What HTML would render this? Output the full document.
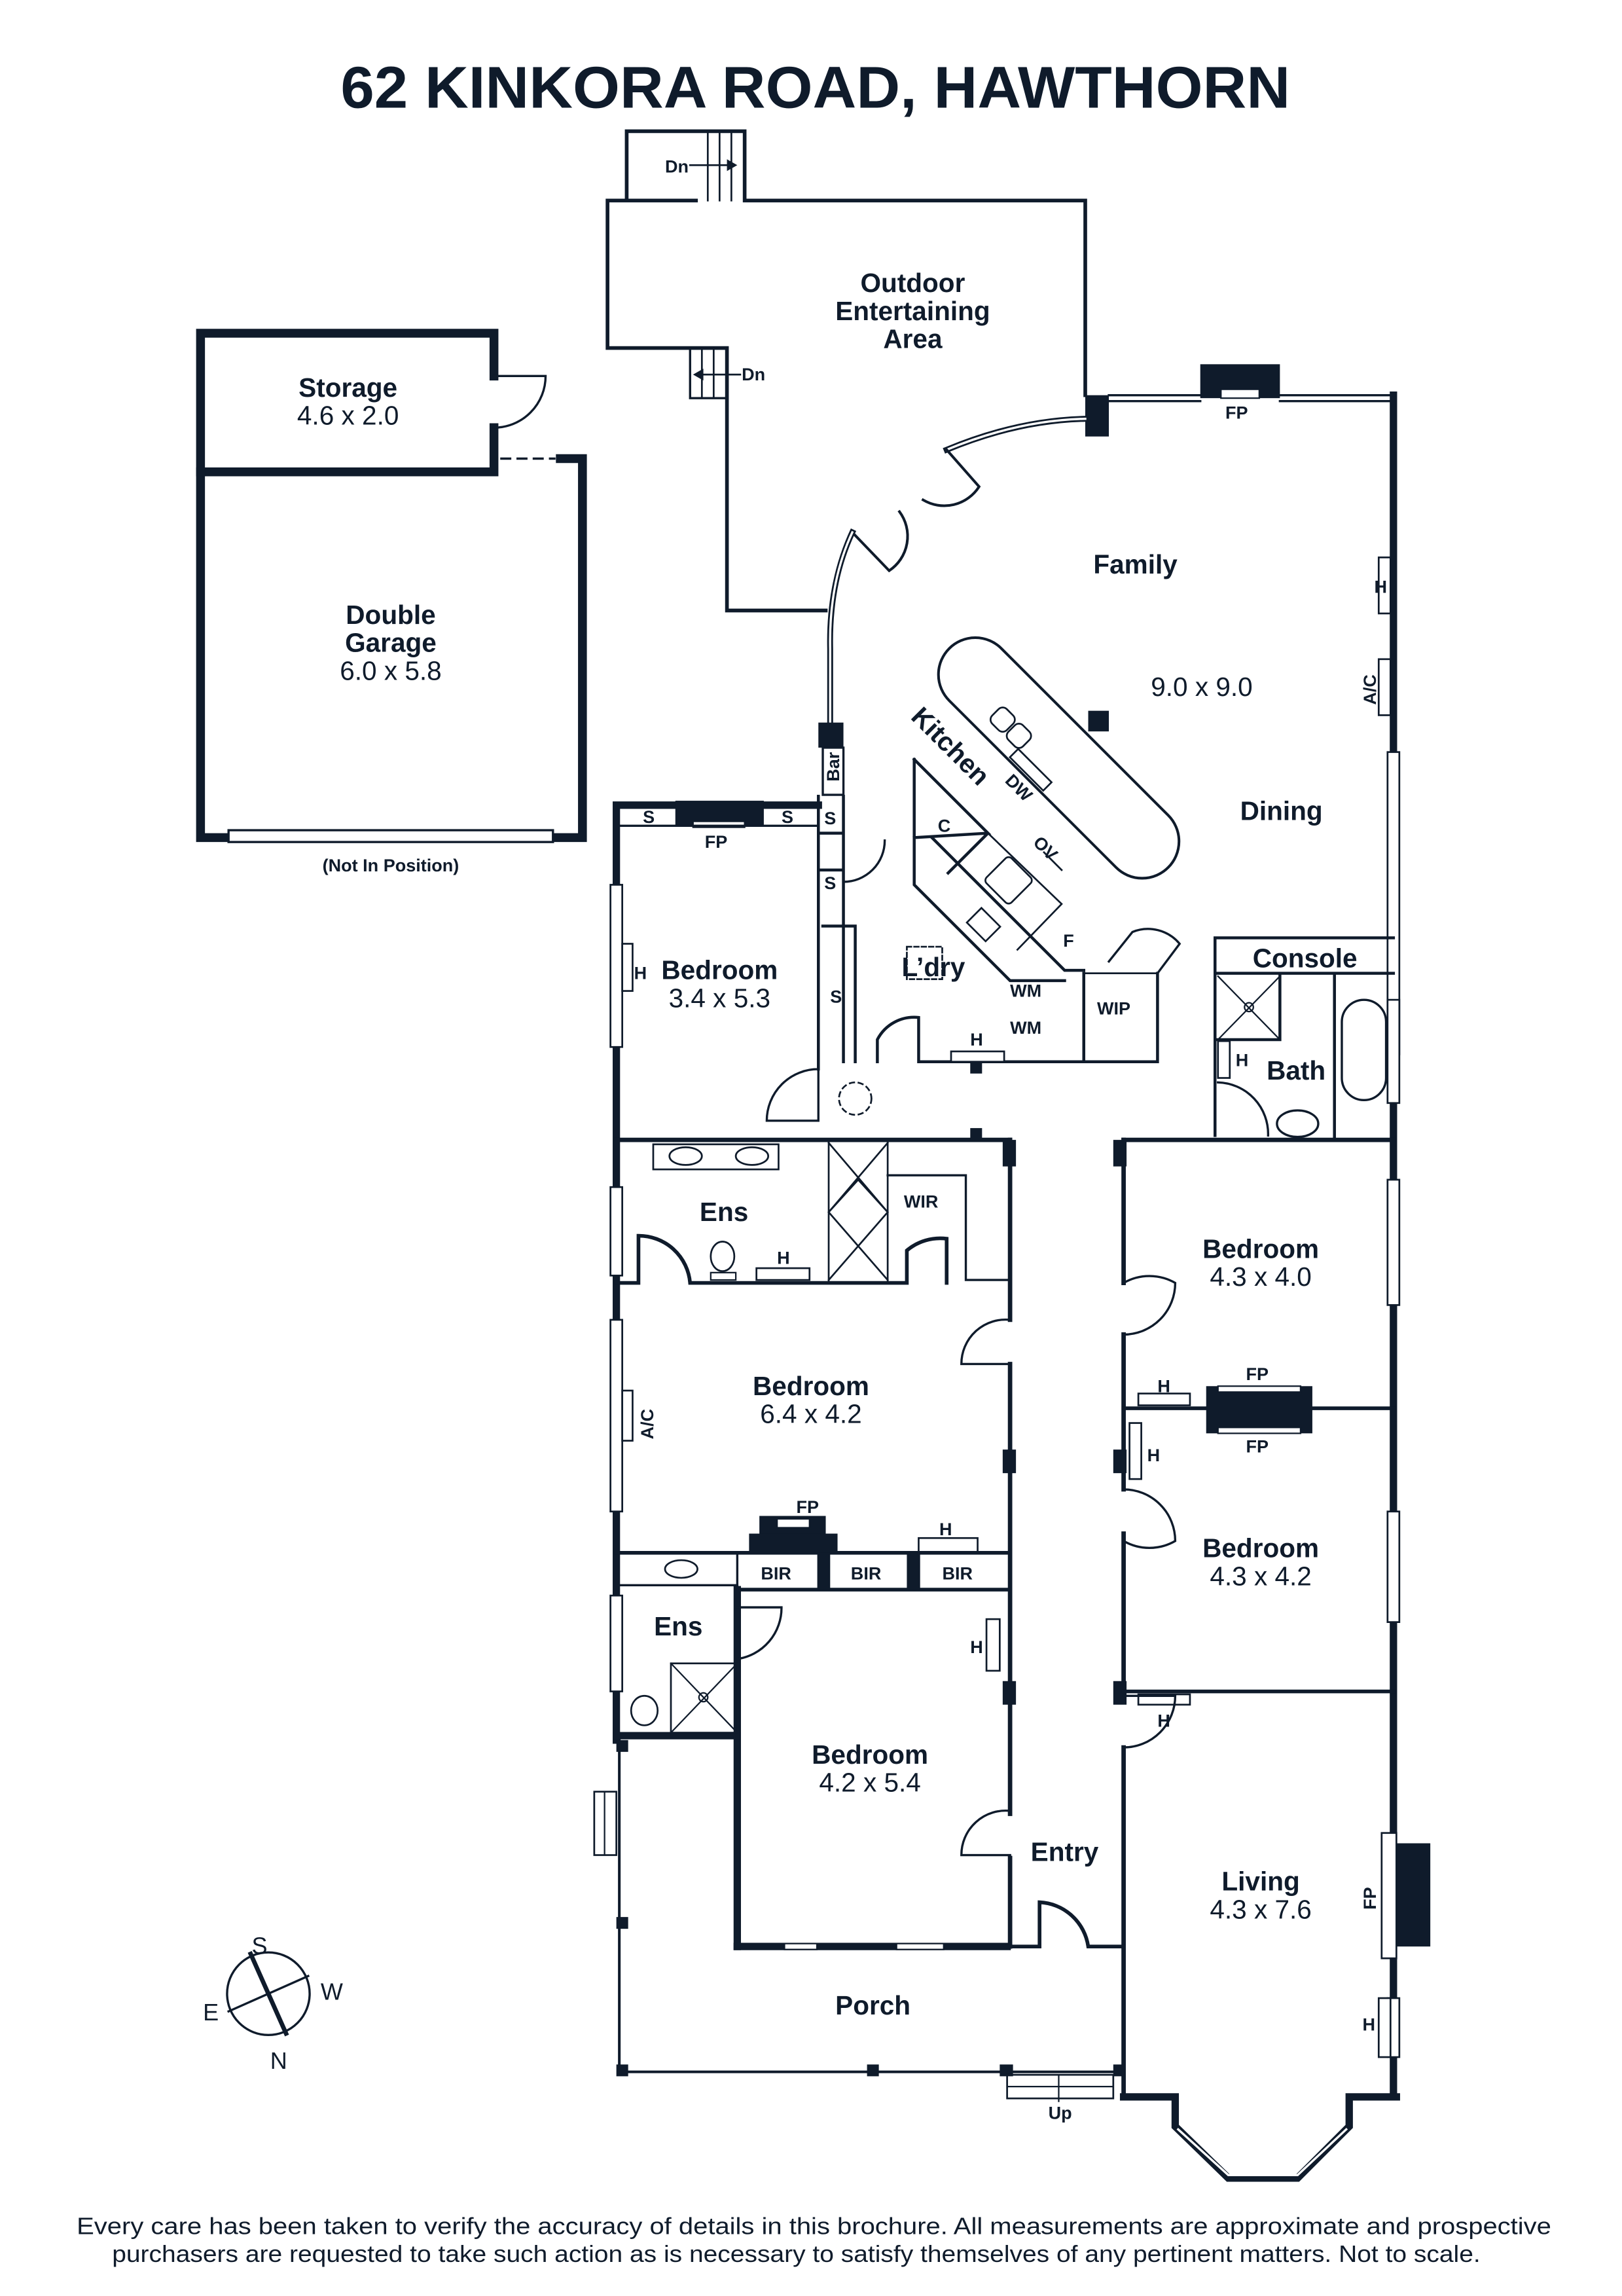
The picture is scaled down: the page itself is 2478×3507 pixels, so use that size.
<!DOCTYPE html>
<html><head><meta charset="utf-8"><style>
html,body{margin:0;padding:0;background:#fff}
svg{display:block}
text{font-family:"Liberation Sans",sans-serif;fill:#0f1b2b}
.b{font-weight:bold;font-size:18px}
.r{font-size:18px}
.s{font-weight:bold;font-size:12px}
</style></head><body>
<svg width="2478" height="3507" viewBox="0 0 1100 1557" preserveAspectRatio="none" xmlns="http://www.w3.org/2000/svg">
<g stroke="#0f1b2b" fill="none" stroke-linecap="square">
<path d="M335,290 V320 H136 V226 H335 V255" stroke-width="6"/>
<path d="M335,255 H370 A35,35 0 0 1 335,290" stroke-width="1.5"/>
<path d="M136,320 V568 H395 V311 H380" stroke-width="6"/>
<line x1="340" y1="311" x2="376" y2="311" stroke-width="1.5" stroke-dasharray="6,5"/>
<rect x="155" y="563" width="220" height="8" fill="#fff" stroke-width="1.5"/>
<path d="M505,136 H736 V268 M472,136 H412 V236 H493 V414 H560 M425,136 V89 H505 V136" stroke-width="2.5"/>
<path d="M480,89 V136 M488,89 V136 M496,89 V136" stroke-width="1.2"/>
<line x1="468" y1="112" x2="498" y2="112" stroke-width="1.2"/>
<path d="M500,112 l-7,-4 v8z" fill="#0f1b2b" stroke="none"/>
<rect x="468" y="236" width="25" height="34" stroke-width="1.5"/>
<path d="M476,236 V270 M484,236 V270" stroke-width="1.2"/>
<line x1="472" y1="254" x2="502" y2="254" stroke-width="1.2"/>
<path d="M470,254 l7,-4 v8z" fill="#0f1b2b" stroke="none"/>
<rect x="814" y="247" width="54" height="23" fill="#0f1b2b" stroke="none"/>
<rect x="828" y="264" width="26" height="6" fill="#fff" stroke-width="1"/>
<path d="M752,268 H814 M752,272 H814 M868,268 H945 M868,272 H945" stroke-width="1.5"/>
<rect x="736" y="268" width="16" height="28" fill="#0f1b2b" stroke="none"/>
<path d="M945,268 V1422" stroke-width="5"/>
<rect x="941" y="510" width="8" height="205" fill="#fff" stroke-width="1.2"/>
<rect x="941" y="678" width="8" height="70" fill="#fff" stroke-width="1.2"/>
<rect x="941" y="800" width="8" height="85" fill="#fff" stroke-width="1.2"/>
<rect x="941" y="1025" width="8" height="75" fill="#fff" stroke-width="1.2"/>
<rect x="941" y="1355" width="8" height="40" fill="#fff" stroke-width="1.2"/>
<rect x="935" y="378" width="8" height="38" fill="#fff" stroke-width="1.2"/>
<rect x="935" y="447" width="8" height="38" fill="#fff" stroke-width="1.2"/>
<path d="M736,284 Q690,285 642,305" stroke-width="4"/>
<path d="M736,284 Q690,285 642,305" stroke="#fff" stroke-width="1.5"/>
<path d="M642,305 L664,330 A28,28 0 0 1 626,339" stroke-width="1.8"/>
<path d="M578,361 L603,387 A28,28 0 0 0 610,347" stroke-width="1.8"/>
<path d="M578,361 Q562,395 563,440 L563,492" stroke-width="4"/>
<path d="M578,361 Q562,395 563,440 L563,492" stroke="#fff" stroke-width="1.5"/>
<rect x="555" y="490" width="17" height="17" fill="#0f1b2b" stroke="none"/>
<rect x="558" y="507" width="14" height="32" stroke-width="1.5"/>
<path d="M555,546 H418 V1180" stroke-width="5"/>
<rect x="458" y="543" width="60" height="17" fill="#0f1b2b" stroke="none"/>
<rect x="470" y="557" width="35" height="4" fill="#fff" stroke-width="1"/>
<path d="M420,560 H555" stroke-width="1.5"/>
<rect x="414" y="600" width="8" height="110" fill="#fff" stroke-width="1.2"/>
<rect x="422" y="640" width="7" height="32" fill="#fff" stroke-width="1.2"/>
<rect x="414" y="805" width="8" height="60" fill="#fff" stroke-width="1.2"/>
<rect x="414" y="895" width="8" height="130" fill="#fff" stroke-width="1.2"/>
<rect x="422" y="943" width="7" height="34" fill="#fff" stroke-width="1.2"/>
<rect x="414" y="1082" width="8" height="65" fill="#fff" stroke-width="1.2"/>
<path d="M555,540 V725 M572,540 V720 M555,565 H572 M555,590 H572" stroke-width="2"/>
<path d="M558,628 H580 V720" stroke-width="2"/>
<path d="M572,570 V598 A28,28 0 0 0 600,570" stroke-width="1.5"/>
<path d="M595,720 V705 A28,28 0 0 1 623,690 V720 H785 V660 M735,720 V660" stroke-width="2"/>
<rect x="645" y="713" width="36" height="7" fill="#fff" stroke-width="1.2"/>
<rect x="658" y="720" width="8" height="8" fill="#0f1b2b" stroke="none"/>
<path d="M735,660 H785" stroke-width="1.2"/>
<path d="M785,660 L800,640 A28,28 0 0 0 768,632 L752,652" stroke-width="1.5"/>
<path d="M620,515 V568 M620,515 L670,565 L620,568 M632,568 L722,658 L735,658 M670,565 L643,592 M620,568 L620,600 L685,665 L722,665" stroke-width="2"/>
<path d="M670,565 L720,613 L690,644 M708,578 L720,590" stroke-width="1.2"/>
<rect x="672" y="585" width="24" height="24" rx="3" transform="rotate(45 684 597)" stroke-width="1.2"/>
<rect x="658" y="620" width="18" height="14" transform="rotate(45 667 627)" stroke-width="1.2"/>
<rect x="615" y="642" width="24" height="22" stroke-width="1.2" stroke-dasharray="3,2"/>
<rect x="613" y="489" width="210" height="50" rx="25" transform="rotate(45 718 514)" stroke-width="1.8"/>
<rect x="673" y="481" width="14" height="14" rx="4" transform="rotate(45 680 488)" stroke-width="1.2"/>
<rect x="684" y="492" width="14" height="14" rx="4" transform="rotate(45 691 499)" stroke-width="1.2"/>
<rect x="683" y="518" width="32" height="8" transform="rotate(45 699 522)" stroke-width="1.2"/>
<rect x="738" y="482" width="14" height="14" fill="#0f1b2b" stroke="none"/>
<path d="M945,636 H824 V770 M824,660 H945 M868,660 V705 M826,705 H868 M905,660 V773" stroke-width="2"/>
<path d="M826,662 L868,705 M868,662 L826,705" stroke-width="1"/>
<circle cx="847" cy="683" r="3" stroke-width="1"/>
<rect x="910" y="678" width="30" height="68" rx="15" stroke-width="1.5"/>
<ellipse cx="880" cy="762" rx="14" ry="9" stroke-width="1.5"/>
<path d="M826,734 A35,35 0 0 1 860,770" stroke-width="1.5"/>
<rect x="826" y="706" width="8" height="25" stroke-width="1.2"/>
<path d="M418,773 H685 M762,773 H945" stroke-width="3"/>
<path d="M685,773 V895 M685,925 V1230 M685,1260 V1320 M762,773 V870 M762,905 V1010 M762,1040 V1150 M762,1185 V1422" stroke-width="3"/>
<rect x="680" y="773" width="9" height="18" fill="#0f1b2b" stroke="none"/>
<rect x="658" y="765" width="8" height="8" fill="#0f1b2b" stroke="none"/>
<rect x="755" y="773" width="9" height="18" fill="#0f1b2b" stroke="none"/>
<rect x="680" y="983" width="9" height="16" fill="#0f1b2b" stroke="none"/>
<rect x="680" y="1140" width="9" height="16" fill="#0f1b2b" stroke="none"/>
<rect x="755" y="983" width="9" height="16" fill="#0f1b2b" stroke="none"/>
<rect x="755" y="1140" width="9" height="16" fill="#0f1b2b" stroke="none"/>
<path d="M685,895 A30,30 0 0 0 652,925 L685,925" stroke-width="1.5"/>
<path d="M685,1228 A30,30 0 0 0 652,1258 L685,1258" stroke-width="1.5"/>
<path d="M762,870 A35,35 0 0 1 797,870 A35,35 0 0 1 762,905" stroke-width="1.5"/>
<path d="M762,1010 A35,35 0 0 1 797,1045 A35,35 0 0 1 762,1045" stroke-width="1.5"/>
<path d="M762,1150 H797 A35,35 0 0 1 762,1185" stroke-width="1.5"/>
<path d="M555,725 V760 H520 A35,35 0 0 1 555,725" stroke-width="1.5"/>
<circle cx="580" cy="745" r="11" stroke-width="1.2" stroke-dasharray="3,3"/>
<rect x="443" y="776" width="85" height="17" stroke-width="1.2"/>
<ellipse cx="465" cy="784" rx="11" ry="6" stroke-width="1.2"/>
<ellipse cx="510" cy="784" rx="11" ry="6" stroke-width="1.2"/>
<path d="M562,775 V870 M602,775 V870 M562,822 L582,800 L602,822 L582,845 Z M562,775 L602,822 M602,775 L562,822 M562,822 L602,868 M602,822 L562,868" stroke-width="1.2"/>
<path d="M602,797 H655 V868 M655,868 H683" stroke-width="1.5"/>
<path d="M418,870 H433 V838 A35,35 0 0 1 468,870 H615 V848 A35,35 0 0 1 642,840 V870" stroke-width="2.5"/>
<ellipse cx="490" cy="852" rx="8" ry="10" stroke-width="1.2"/>
<rect x="482" y="863" width="17" height="5" stroke-width="1"/>
<rect x="513" y="860" width="36" height="8" stroke-width="1.2"/>
<rect x="515" y="1028" width="45" height="25" fill="#0f1b2b" stroke="none"/>
<rect x="508" y="1040" width="60" height="13" fill="#0f1b2b" stroke="none"/>
<rect x="527" y="1030" width="22" height="6" fill="#fff" stroke-width="1"/>
<rect x="623" y="1043" width="40" height="10" stroke-width="1.2"/>
<path d="M418,1053 H683 M500,1078 H683" stroke-width="2.5"/>
<path d="M500,1053 V1078 M555,1053 V1078 M620,1053 V1078" stroke-width="1.5"/>
<rect x="555" y="1053" width="8" height="25" fill="#0f1b2b" stroke="none"/>
<rect x="615" y="1053" width="9" height="25" fill="#0f1b2b" stroke="none"/>
<path d="M500,1078 V1320" stroke-width="5"/>
<path d="M500,1320 H683 M418,1177 H500" stroke-width="5"/>
<rect x="532" y="1318" width="22" height="4" fill="#fff" stroke-width="1"/>
<rect x="608" y="1318" width="32" height="4" fill="#fff" stroke-width="1"/>
<path d="M418,1075 H500 M500,1090 H530 A35,35 0 0 1 500,1125" stroke-width="1.5"/>
<ellipse cx="462" cy="1064" rx="11" ry="6" stroke-width="1.2"/>
<rect x="455" y="1128" width="45" height="47" stroke-width="1.2"/>
<path d="M455,1128 L500,1175 M500,1128 L455,1175" stroke-width="1"/>
<circle cx="477" cy="1151" r="3" stroke-width="1"/>
<ellipse cx="437" cy="1160" rx="9" ry="10" stroke-width="1.2"/>
<rect x="669" y="1098" width="9" height="35" stroke-width="1.2"/>
<path d="M762,955 H945 M762,1147 H945" stroke-width="2.5"/>
<rect x="818" y="940" width="72" height="32" fill="#0f1b2b" stroke="none"/>
<rect x="826" y="940" width="56" height="4" fill="#fff" stroke-width="1"/>
<rect x="826" y="968" width="56" height="4" fill="#fff" stroke-width="1"/>
<rect x="772" y="945" width="35" height="8" stroke-width="1.2"/>
<rect x="766" y="965" width="8" height="38" stroke-width="1.2"/>
<rect x="772" y="1149" width="35" height="7" stroke-width="1.2"/>
<rect x="945" y="1250" width="25" height="70" fill="#0f1b2b" stroke="none"/>
<rect x="937" y="1243" width="10" height="85" fill="#fff" stroke-width="1.2"/>
<rect x="935" y="1355" width="8" height="40" fill="#fff" stroke-width="1.2"/>
<path d="M762,1422 H797 V1442 L833,1477 H880 L915,1442 V1422 H947" stroke-width="5"/>
<path d="M799,1444 L833,1475 H880 L913,1444" stroke="#fff" stroke-width="1.5"/>
<path d="M683,1320 H705 V1290 A35,35 0 0 1 738,1320 H762" stroke-width="2.5"/>
<path d="M420,1180 V1405 H762" stroke-width="1.8"/>
<rect x="418" y="1180" width="8" height="8" fill="#0f1b2b" stroke="none"/>
<rect x="418" y="1300" width="8" height="8" fill="#0f1b2b" stroke="none"/>
<rect x="418" y="1400" width="8" height="8" fill="#0f1b2b" stroke="none"/>
<rect x="588" y="1400" width="8" height="8" fill="#0f1b2b" stroke="none"/>
<rect x="678" y="1400" width="9" height="8" fill="#0f1b2b" stroke="none"/>
<rect x="755" y="1400" width="8" height="8" fill="#0f1b2b" stroke="none"/>
<rect x="403" y="1215" width="15" height="43" stroke-width="1.2"/>
<path d="M410,1215 V1258" stroke-width="1"/>
<rect x="683" y="1407" width="72" height="16" stroke-width="1.2"/>
<path d="M683,1415 H755 M718,1407 V1425" stroke-width="1"/>
<circle cx="182" cy="1352" r="28" stroke-width="1.5"/>
<path d="M170,1325 L194,1379" stroke-width="3"/>
<path d="M155,1364 L209,1340" stroke-width="1.5"/>
</g>
<g fill="#0f1b2b">
<text x="553" y="73" text-anchor="middle" font-size="40" font-weight="bold" textLength="644" lengthAdjust="spacingAndGlyphs">62 KINKORA ROAD, HAWTHORN</text>
<text x="552" y="1515" text-anchor="middle" font-size="16" textLength="1000" lengthAdjust="spacingAndGlyphs">Every care has been taken to verify the accuracy of details in this brochure. All measurements are approximate and prospective</text>
<text x="540" y="1534" text-anchor="middle" font-size="16" textLength="928" lengthAdjust="spacingAndGlyphs">purchasers are requested to take such action as is necessary to satisfy themselves of any pertinent matters. Not to scale.</text>
<text class="b" x="236" y="269" text-anchor="middle">Storage</text>
<text class="r" x="236" y="288" text-anchor="middle">4.6 x 2.0</text>
<text class="b" x="265" y="423" text-anchor="middle">Double</text>
<text class="b" x="265" y="442" text-anchor="middle">Garage</text>
<text class="r" x="265" y="461" text-anchor="middle">6.0 x 5.8</text>
<text class="s" x="265" y="591" text-anchor="middle" font-size="14">(Not In Position)</text>
<text class="b" x="619" y="198" text-anchor="middle">Outdoor</text>
<text class="b" x="619" y="217" text-anchor="middle">Entertaining</text>
<text class="b" x="619" y="236" text-anchor="middle">Area</text>
<text class="s" x="451" y="117">Dn</text>
<text class="s" x="503" y="258">Dn</text>
<text class="s" x="831" y="284">FP</text>
<text class="b" x="770" y="389" text-anchor="middle">Family</text>
<text class="r" x="815" y="472" text-anchor="middle">9.0 x 9.0</text>
<text class="b" x="869" y="556" text-anchor="middle">Dining</text>
<text class="s" x="932" y="402">H</text>
<text class="s" transform="translate(933,478) rotate(-90)">A/C</text>
<text class="b" transform="translate(617,487) rotate(45)">Kitchen</text>
<text class="s" transform="translate(681,530) rotate(45)">DW</text>
<text class="s" transform="translate(700,572) rotate(45)">OV</text>
<text class="s" transform="translate(569,530) rotate(-90)" font-size="11">Bar</text>
<text class="s" x="559" y="559" font-size="14">S</text>
<text class="s" x="559" y="603" font-size="14">S</text>
<text class="s" x="563" y="680" font-size="14">S</text>
<text class="s" x="436" y="558" font-size="14">S</text>
<text class="s" x="530" y="558" font-size="14">S</text>
<text class="s" x="478" y="575" font-size="14">FP</text>
<text class="s" x="636" y="564" font-size="14">C</text>
<text class="s" x="721" y="642" font-size="14">F</text>
<text class="b" x="633" y="662" text-anchor="middle">L’dry</text>
<text class="s" x="685" y="676" font-size="14">WM</text>
<text class="s" x="685" y="701" font-size="14">WM</text>
<text class="s" x="744" y="688" font-size="14">WIP</text>
<text class="s" x="658" y="709">H</text>
<text class="b" x="885" y="656" text-anchor="middle">Console</text>
<text class="b" x="879" y="732" text-anchor="middle">Bath</text>
<text class="s" x="838" y="723">H</text>
<text class="b" x="488" y="664" text-anchor="middle">Bedroom</text>
<text class="r" x="488" y="683" text-anchor="middle">3.4 x 5.3</text>
<text class="s" x="430" y="664">H</text>
<text class="b" x="491" y="828" text-anchor="middle">Ens</text>
<text class="s" x="527" y="857">H</text>
<text class="s" x="613" y="819" font-size="14">WIR</text>
<text class="b" x="550" y="946" text-anchor="middle">Bedroom</text>
<text class="r" x="550" y="965" text-anchor="middle">6.4 x 4.2</text>
<text class="s" transform="translate(443,976) rotate(-90)">A/C</text>
<text class="s" x="540" y="1026" font-size="13">FP</text>
<text class="s" x="637" y="1041">H</text>
<text class="s" x="516" y="1071" font-size="14">BIR</text>
<text class="s" x="577" y="1071" font-size="14">BIR</text>
<text class="s" x="639" y="1071" font-size="14">BIR</text>
<text class="b" x="460" y="1109" text-anchor="middle">Ens</text>
<text class="s" x="658" y="1121">H</text>
<text class="b" x="590" y="1196" text-anchor="middle">Bedroom</text>
<text class="r" x="590" y="1215" text-anchor="middle">4.2 x 5.4</text>
<text class="b" x="722" y="1262" text-anchor="middle">Entry</text>
<text class="b" x="592" y="1366" text-anchor="middle">Porch</text>
<text class="s" x="711" y="1437" font-size="11">Up</text>
<text class="b" x="855" y="853" text-anchor="middle">Bedroom</text>
<text class="r" x="855" y="872" text-anchor="middle">4.3 x 4.0</text>
<text class="s" x="845" y="936" font-size="13">FP</text>
<text class="s" x="845" y="985" font-size="13">FP</text>
<text class="s" x="785" y="944">H</text>
<text class="s" x="778" y="991">H</text>
<text class="b" x="855" y="1056" text-anchor="middle">Bedroom</text>
<text class="r" x="855" y="1075" text-anchor="middle">4.3 x 4.2</text>
<text class="s" x="785" y="1171">H</text>
<text class="b" x="855" y="1282" text-anchor="middle">Living</text>
<text class="r" x="855" y="1301" text-anchor="middle">4.3 x 7.6</text>
<text class="s" transform="translate(933,1295) rotate(-90)" font-size="13">FP</text>
<text class="s" x="924" y="1377">H</text>
<text x="176" y="1325" font-size="16" text-anchor="middle">S</text>
<text x="225" y="1356" font-size="16" text-anchor="middle">W</text>
<text x="143" y="1370" font-size="16" text-anchor="middle">E</text>
<text x="189" y="1403" font-size="16" text-anchor="middle">N</text>
</g>
</svg>
</body></html>
